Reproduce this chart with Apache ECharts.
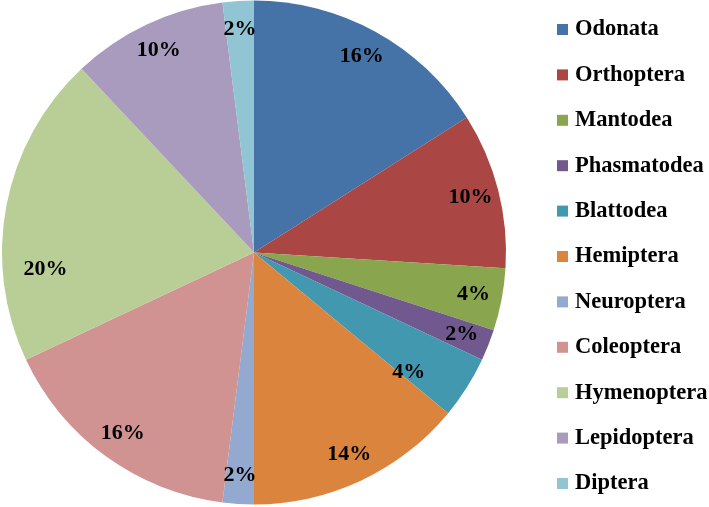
<!DOCTYPE html>
<html>
<head>
<meta charset="utf-8">
<script src="https://cdn.jsdelivr.net/npm/echarts@6/dist/echarts.min.js"></script>
<style>
html,body{margin:0;padding:0;background:#fff;}
#chart{width:709px;height:507px;}
</style>
</head>
<body>
<div id="chart"></div>
<script>
var categories = ['Odonata','Orthoptera','Mantodea','Phasmatodea','Blattodea','Hemiptera','Neuroptera','Coleoptera','Hymenoptera','Lepidoptera','Diptera'];
var percentValues = [16, 10, 4, 2, 4, 14, 2, 16, 20, 10, 2];
var sliceColors = ['#4572A7','#AA4643','#89A54E','#71588F','#4198AF','#DB843D','#93A9CF','#D19392','#B9CD96','#A99BBD','#92C5D4'];

var chart = echarts.init(document.getElementById('chart'), null, {renderer:'canvas'});
var pieData = categories.map(function(n, i){ return {name:n, value:percentValues[i], itemStyle:{color:sliceColors[i]}}; });
// Excel "best fit" label nudges for a couple of slices
var labelNudge = {4:[-34,0], 8:[11,59]};
var labelData = categories.map(function(n, i){
  var d = {name:n, value:percentValues[i]};
  if (labelNudge[i]) d.label = {offset:labelNudge[i]};
  return d;
});
var fontFam = '"Liberation Serif","Times New Roman",serif';
var R = 252;
chart.setOption({
  animation:false,
  legend:{
    orient:'vertical', left:552, top:13,
    itemWidth:11, itemHeight:11, itemGap:22.4,
    icon:'rect',
    data:categories,
    textStyle:{fontFamily:fontFam, fontWeight:'bold', fontSize:22.5, color:'#000', lineHeight:22, padding:[0,0,0,2]}
  },
  series:[
    {
      type:'pie', center:[254,252.5], radius:[0,R],
      startAngle:90, clockwise:true,
      label:{show:false}, labelLine:{show:false},
      itemStyle:{borderWidth:0},
      emphasis:{disabled:true},
      data:pieData
    },
    {
      type:'pie', center:[254,252.5], radius:[R*0.75,R],
      startAngle:90, clockwise:true, silent:true,
      itemStyle:{color:'rgba(0,0,0,0)', borderWidth:0},
      label:{show:true, position:'inside', formatter:'{c}%', fontFamily:fontFam, fontWeight:'bold', fontSize:22, color:'#000'},
      labelLine:{show:false},
      emphasis:{disabled:true},
      data:labelData
    }
  ]
});
</script>
</body>
</html>
